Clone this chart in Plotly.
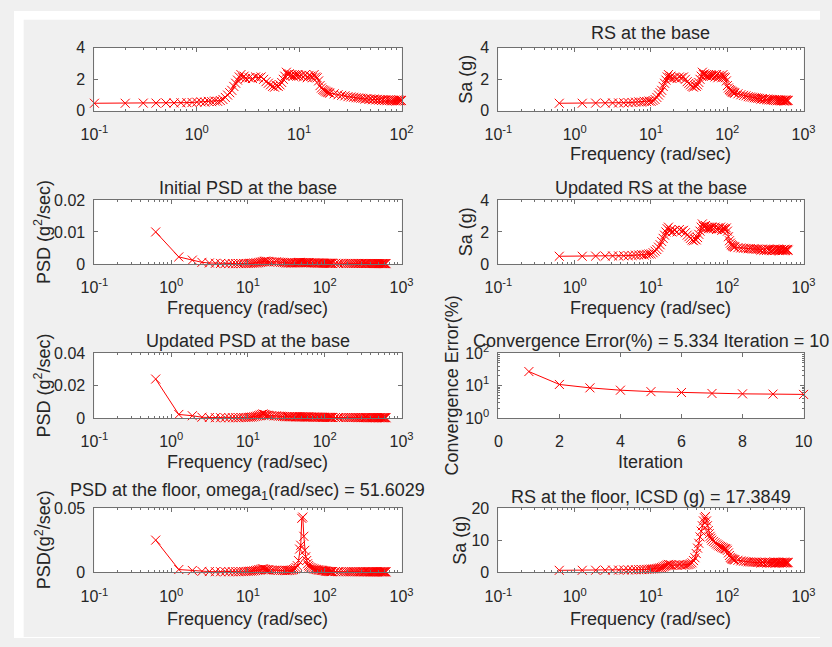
import math
import plotly.graph_objects as go

# ---------------- data ----------------
FREQ_HZ = [0.1, 0.2, 0.3, 0.4, 0.5, 0.6, 0.7, 0.8, 0.9, 1.0,
           1.1, 1.2, 1.3, 1.4, 1.5, 1.6, 1.7, 1.8, 1.9, 2.0,
           2.1, 2.2, 2.3, 2.4, 2.5, 2.6, 2.7, 2.8, 2.9, 3.0,
           3.25, 3.5, 3.75, 4.0, 4.25, 4.5, 4.75, 5.0,
           5.25, 5.5, 5.75, 6.0, 6.25, 6.5, 6.75, 7.0, 7.25, 7.5,
           7.75, 8.0, 8.25, 8.5, 8.75, 9.0, 9.25, 9.5, 9.75, 10.0,
           10.5, 11, 11.5, 12, 12.5, 13, 13.5, 14, 14.5, 15,
           15.5, 16, 16.5, 17, 17.5, 18, 18.5, 19, 19.5, 20,
           22, 24, 26, 28, 30, 32, 34, 36, 38, 40,
           42, 44, 46, 48, 50, 52, 54, 56, 58, 60,
           62, 64, 66, 68, 70, 72, 74, 76, 78, 80,
           82, 84, 86, 88, 90, 92, 94, 96, 98, 100]

RS_BASE = [0.48, 0.48, 0.49, 0.49, 0.50, 0.50, 0.51, 0.52, 0.53, 0.55,
           0.57, 0.55, 0.60, 0.58, 0.62, 0.60, 0.65, 0.72, 0.85, 1.00,
           1.15, 1.30, 1.55, 1.75, 1.95, 2.15, 2.30, 2.10, 2.20, 2.05,
           2.10, 2.05, 2.15, 2.10, 2.15, 2.00, 1.85, 1.75,
           1.65, 1.55, 1.50, 1.60, 1.55, 1.65, 1.80, 2.00, 2.20, 2.45,
           2.30, 2.35, 2.25, 2.30, 2.20, 2.30, 2.25, 2.20, 2.30, 2.20,
           2.25, 2.15, 2.30, 2.10, 2.25, 2.20, 2.10, 2.30, 2.15, 2.10,
           1.90, 1.60, 1.45, 1.35, 1.30, 1.25, 1.20, 1.18, 1.15, 1.12,
           1.08, 1.02, 0.98, 0.95, 0.90, 0.88, 0.86, 0.83, 0.82, 0.80,
           0.79, 0.74, 0.78, 0.72, 0.76, 0.70, 0.75, 0.69, 0.73, 0.68,
           0.72, 0.66, 0.71, 0.65, 0.70, 0.64, 0.69, 0.65, 0.70, 0.63,
           0.69, 0.64, 0.68, 0.62, 0.68, 0.63, 0.69, 0.64, 0.67, 0.65]

RS_UPDATED = [0.48, 0.48, 0.49, 0.49, 0.50, 0.50, 0.51, 0.52, 0.53, 0.55,
              0.56, 0.58, 0.56, 0.60, 0.62, 0.63, 0.70, 0.80, 0.90, 1.05,
              1.20, 1.40, 1.60, 1.80, 2.00, 2.20, 2.30, 2.05, 2.15, 2.00,
              2.10, 2.00, 2.15, 2.05, 2.10, 1.95, 1.80, 1.70,
              1.60, 1.50, 1.45, 1.55, 1.50, 1.65, 1.85, 2.05, 2.30, 2.50,
              2.35, 2.30, 2.40, 2.25, 2.30, 2.20, 2.30, 2.25, 2.20, 2.30,
              2.20, 2.30, 2.15, 2.25, 2.20, 2.30, 2.10, 2.25, 2.20, 2.15,
              2.25, 2.05, 1.70, 1.45, 1.30, 1.20, 1.15, 1.10, 1.08, 1.05,
              1.02, 1.00, 0.98, 0.97, 0.95, 0.96, 0.93, 0.94, 0.92, 0.93,
              0.91, 0.86, 0.93, 0.85, 0.90, 0.84, 0.92, 0.87, 0.91, 0.83,
              0.89, 0.86, 0.93, 0.84, 0.90, 0.87, 0.93, 0.84, 0.89, 0.86,
              0.91, 0.83, 0.88, 0.86, 0.92, 0.84, 0.90, 0.87, 0.91, 0.86]

RS_FLOOR = [0.55, 0.56, 0.58, 0.60, 0.62, 0.64, 0.66, 0.68, 0.70, 0.72,
            0.75, 0.78, 0.80, 0.85, 0.90, 0.95, 1.00, 1.05, 1.10, 1.20,
            1.30, 1.40, 1.60, 1.80, 2.00, 2.20, 2.40, 2.20, 2.30, 2.10,
            2.20, 2.10, 2.30, 2.15, 2.25, 2.20, 2.30, 2.40,
            2.60, 2.90, 3.60, 4.50, 5.80, 7.50, 9.00, 11.0, 12.8, 14.5,
            16.0, 17.0, 17.4, 16.0, 14.5, 13.0, 12.0, 11.2, 10.6, 10.0,
            9.6, 9.2, 8.8, 8.5, 8.2, 8.0, 7.8, 7.6, 7.4, 7.3,
            7.2, 6.8, 6.0, 5.2, 4.6, 4.3, 4.1, 4.0, 3.9, 3.8,
            3.7, 3.5, 3.4, 3.3, 3.2, 3.15, 3.1, 3.1, 3.05, 3.0,
            3.10, 2.85, 3.05, 2.90, 3.15, 2.80, 3.00, 2.95, 3.10, 2.85,
            3.00, 2.90, 3.15, 2.80, 3.05, 2.90, 3.10, 2.85, 3.00, 2.95,
            3.10, 2.80, 3.05, 2.90, 3.15, 2.85, 3.00, 2.90, 3.10, 2.95]

PSD_INIT = [0.0100, 0.0022, 0.0012, 0.0005, 0.0003, 0.0002, 0.00015, 0.0001, 0.0001, 0.0001,
            0.0001, 0.00012, 0.0001, 0.00015, 0.00012, 0.00015, 0.0002, 0.0002, 0.00025, 0.0003,
            0.0003, 0.0004, 0.0005, 0.0006, 0.0007, 0.0008, 0.0009, 0.0007, 0.0008, 0.0006,
            0.0007, 0.0006, 0.0007, 0.0006, 0.0005, 0.0005, 0.0004, 0.0003,
            0.0003, 0.0003, 0.00025, 0.0003, 0.0003, 0.00035, 0.0004, 0.0004, 0.00045, 0.0005,
            0.00045, 0.0004, 0.00045, 0.0004, 0.0004, 0.00035, 0.0004, 0.00035, 0.0004, 0.00035,
            0.0003, 0.0003, 0.00035, 0.0003, 0.0003, 0.00028, 0.0003, 0.00028, 0.00026, 0.00025,
            0.00025, 0.00022, 0.0002, 0.0002, 0.0002, 0.00018, 0.0002, 0.00018, 0.0002, 0.00018,
            0.00018, 0.00016, 0.00018, 0.00015, 0.00016, 0.00015, 0.00016, 0.00015, 0.00014, 0.00015,
            0.00014, 0.00015, 0.00013, 0.00014, 0.00015, 0.00013, 0.00014, 0.00012, 0.00014, 0.00013,
            0.00012, 0.00014, 0.00012, 0.00013, 0.00012, 0.00011, 0.00013, 0.00012, 0.00011, 0.00012,
            0.00011, 0.00012, 0.0001, 0.00011, 0.00012, 0.0001, 0.00011, 0.0001, 0.00011, 0.0001]

PSD_UPDATED = [0.0240, 0.0022, 0.0014, 0.0005, 0.0003, 0.0002, 0.0002, 0.0002, 0.0002, 0.0002,
               0.0002, 0.0002, 0.0003, 0.0003, 0.0003, 0.0004, 0.0005, 0.0006, 0.0008, 0.0010,
               0.0012, 0.0015, 0.0018, 0.0022, 0.0025, 0.0022, 0.0020, 0.0016, 0.0017, 0.0014,
               0.0015, 0.0013, 0.0014, 0.0012, 0.0011, 0.0010, 0.0009, 0.0008,
               0.0008, 0.0008, 0.0007, 0.0008, 0.0007, 0.0008, 0.0007, 0.0008, 0.0007, 0.0008,
               0.0007, 0.0007, 0.0008, 0.0007, 0.0007, 0.0006, 0.0007, 0.0006, 0.0007, 0.0006,
               0.0006, 0.0005, 0.0006, 0.0005, 0.0006, 0.0005, 0.0005, 0.0005, 0.0005, 0.0004,
               0.0005, 0.0004, 0.0004, 0.0004, 0.0004, 0.0004, 0.0004, 0.0003, 0.0004, 0.0003,
               0.0003, 0.0003, 0.0003, 0.0003, 0.0003, 0.0003, 0.0003, 0.0003, 0.0003, 0.0003,
               0.0003, 0.0002, 0.0003, 0.0002, 0.0003, 0.0002, 0.0003, 0.0002, 0.0003, 0.0002,
               0.0002, 0.0003, 0.0002, 0.0002, 0.0003, 0.0002, 0.0002, 0.0002, 0.0003, 0.0002,
               0.0002, 0.0002, 0.0003, 0.0002, 0.0002, 0.0002, 0.0002, 0.0003, 0.0002, 0.0002]

PSD_FLOOR = [0.0250, 0.0020, 0.0013, 0.0006, 0.0004, 0.0003, 0.0003, 0.0003, 0.0003, 0.0003,
             0.0003, 0.0003, 0.0004, 0.0004, 0.0005, 0.0006, 0.0007, 0.0008, 0.0010, 0.0012,
             0.0015, 0.0018, 0.0020, 0.0024, 0.0026, 0.0023, 0.0020, 0.0018, 0.0019, 0.0016,
             0.0017, 0.0015, 0.0016, 0.0014, 0.0013, 0.0012, 0.0012, 0.0011,
             0.0012, 0.0013, 0.0015, 0.0017, 0.0020, 0.0025, 0.0035, 0.0050, 0.0090, 0.0180,
             0.0210, 0.0420, 0.0430, 0.0280, 0.0170, 0.0120, 0.0090, 0.0065, 0.0050, 0.0040,
             0.0035, 0.0030, 0.0025, 0.0022, 0.0020, 0.0018, 0.0016, 0.0015, 0.0014, 0.0013,
             0.0012, 0.0010, 0.0008, 0.0006, 0.0005, 0.0005, 0.0004, 0.0004, 0.0004, 0.0004,
             0.0004, 0.0003, 0.0003, 0.0003, 0.0003, 0.0003, 0.0003, 0.0003, 0.0003, 0.0003,
             0.0003, 0.0002, 0.0003, 0.0002, 0.0003, 0.0002, 0.0003, 0.0002, 0.0002, 0.0003,
             0.0002, 0.0002, 0.0003, 0.0002, 0.0002, 0.0002, 0.0003, 0.0002, 0.0002, 0.0002,
             0.0002, 0.0003, 0.0002, 0.0002, 0.0002, 0.0002, 0.0002, 0.0003, 0.0002, 0.0002]

ITERATION = [1, 2, 3, 4, 5, 6, 7, 8, 9, 10]
CONV_ERROR = [27.0, 10.8, 8.5, 7.2, 6.5, 6.1, 5.7, 5.55, 5.45, 5.334]

# rad/sec axis values (unit conversion of the frequency grid)
FREQ_RAD = [2 * math.pi * f for f in FREQ_HZ]

LOG_TICKVALS = [0.1, 1, 10, 100, 1000]
LOG_TICKTEXT = ["10<sup>-1</sup>", "10<sup>0</sup>", "10<sup>1</sup>",
                "10<sup>2</sup>", "10<sup>3</sup>"]
CONV_Y_TICKVALS = [1, 10, 100]
CONV_Y_TICKTEXT = ["10<sup>0</sup>", "10<sup>1</sup>", "10<sup>2</sup>"]

TITLES = ["", "RS at the base", "Initial PSD at the base", "Updated RS at the base",
          "Updated PSD at the base", "Convergence Error(%) = 5.334 Iteration = 10",
          "PSD at the floor, omega<sub>1</sub>(rad/sec) = 51.6029",
          "RS at the floor, ICSD (g) = 17.3849"]
XLABELS = ["", "Frequency (rad/sec)", "Frequency (rad/sec)", "Frequency (rad/sec)",
           "Frequency (rad/sec)", "Iteration", "Frequency (rad/sec)", "Frequency (rad/sec)"]
YLABELS = ["", "Sa (g)", "PSD (g<sup>2</sup>/sec)", "Sa (g)", "PSD (g<sup>2</sup>/sec)",
           "Convergence Error(%)", "PSD(g<sup>2</sup>/sec)", "Sa (g)"]

# ---------------- layout geometry (window pixels) ----------------
W, H = 832, 647
COLS = [(83, 400), (500, 815)]
ROWS = [(38, 103), (195, 261), (353, 420), (513, 579)]

def px_x(v):
    return v / W

def px_y(v):
    return 1 - v / H

FONT = "Liberation Sans, Arial, Helvetica, sans-serif"
TXT = "#262626"
AX = "#707070"
RED = "#ff0000"
TICK_SIZE = 16
LABEL_SIZE = 18

MINOR_LOG = [k * 10 ** e for e in range(-1, 3) for k in range(2, 10)]

panels = [
    dict(x=FREQ_HZ, y=RS_BASE, xlog=True, xr=[-1, 2], ylog=False, yr=[0, 4], yt=[0, 2, 4], ytt=["0", "2", "4"]),
    dict(x=FREQ_RAD, y=RS_BASE, xlog=True, xr=[-1, 3], ylog=False, yr=[0, 4], yt=[0, 2, 4], ytt=["0", "2", "4"]),
    dict(x=FREQ_RAD, y=PSD_INIT, xlog=True, xr=[-1, 3], ylog=False, yr=[0, 0.02], yt=[0, 0.01, 0.02], ytt=["0", "0.01", "0.02"]),
    dict(x=FREQ_RAD, y=RS_UPDATED, xlog=True, xr=[-1, 3], ylog=False, yr=[0, 4], yt=[0, 2, 4], ytt=["0", "2", "4"]),
    dict(x=FREQ_RAD, y=PSD_UPDATED, xlog=True, xr=[-1, 3], ylog=False, yr=[0, 0.04], yt=[0, 0.02, 0.04], ytt=["0", "0.02", "0.04"]),
    dict(x=ITERATION, y=CONV_ERROR, xlog=False, xr=[0, 10], ylog=True, yr=[0, 2], yt=CONV_Y_TICKVALS, ytt=CONV_Y_TICKTEXT),
    dict(x=FREQ_RAD, y=PSD_FLOOR, xlog=True, xr=[-1, 3], ylog=False, yr=[0, 0.05], yt=[0, 0.05], ytt=["0", "0.05"]),
    dict(x=FREQ_RAD, y=RS_FLOOR, xlog=True, xr=[-1, 3], ylog=False, yr=[0, 20], yt=[0, 10, 20], ytt=["0", "10", "20"]),
]

fig = go.Figure()
layout = dict(
    width=W, height=H, autosize=False,
    margin=dict(l=0, r=0, t=0, b=0),
    paper_bgcolor="#f0f0f0", plot_bgcolor="white",
    showlegend=False,
    font=dict(family=FONT, color=TXT, size=TICK_SIZE),
)
annotations = []
ylab_offsets = [0, 33, 53, 33, 53, 48, 53, 40]
title_offsets = [15, 15, 12, 12, 12, 12, 17, 12]
xlab_offsets = [45, 45, 45, 45, 45, 45, 48, 48]
xtick_standoff = [9, 9, 9, 9, 9, 9, 10, 10]

for i, p in enumerate(panels):
    n = i + 1
    row, col = divmod(i, 2)
    x0, x1 = COLS[col]
    t0, b0 = ROWS[row]
    xs = "" if n == 1 else str(n)
    fig.add_trace(go.Scatter(
        x=p["x"], y=p["y"], xaxis="x" + xs, yaxis="y" + xs,
        mode="lines+markers", cliponaxis=False,
        line=dict(color=RED, width=1),
        marker=dict(symbol="x-thin", size=9, color=RED, line=dict(color=RED, width=1)),
        hoverinfo="skip",
    ))
    xa = dict(
        domain=[px_x(x0), px_x(x1)], anchor="y" + xs,
        range=p["xr"], type="log" if p["xlog"] else "linear",
        showgrid=False, zeroline=False,
        showline=True, linecolor=AX, linewidth=1, mirror="ticks",
        ticks="inside", ticklen=4, tickcolor=AX, tickwidth=1,
        ticklabelstandoff=xtick_standoff[i],
        tickfont=dict(family=FONT, size=TICK_SIZE, color=TXT),
    )
    if p["xlog"]:
        nt = 4 if p["xr"][1] == 2 else 5
        xa.update(tickmode="array", tickvals=LOG_TICKVALS[:nt], ticktext=LOG_TICKTEXT[:nt],
                  minor=dict(ticks="inside", ticklen=2, tickcolor=AX, tickwidth=1,
                             tickmode="array",
                             tickvals=[v for v in MINOR_LOG if v < 10 ** p["xr"][1]],
                             showgrid=False))
    else:
        xa.update(tickmode="array", tickvals=[0, 2, 4, 6, 8, 10],
                  ticktext=["0", "2", "4", "6", "8", "10"])
    ya = dict(
        domain=[px_y(b0), px_y(t0)], anchor="x" + xs,
        range=p["yr"], type="log" if p["ylog"] else "linear",
        showgrid=False, zeroline=False,
        showline=True, linecolor=AX, linewidth=1, mirror="ticks",
        ticks="inside", ticklen=4, tickcolor=AX, tickwidth=1,
        ticklabelstandoff=5,
        tickmode="array", tickvals=p["yt"], ticktext=p["ytt"],
        tickfont=dict(family=FONT, size=TICK_SIZE, color=TXT),
    )
    if p["ylog"]:
        ya.update(minor=dict(ticks="inside", ticklen=2, tickcolor=AX, tickwidth=1,
                             tickmode="array",
                             tickvals=[k * 10 ** e for e in range(0, 2) for k in range(2, 10)],
                             showgrid=False))
    layout["xaxis" + xs] = xa
    layout["yaxis" + xs] = ya

    cx = (x0 + x1) / 2
    cy = (t0 + b0) / 2
    if TITLES[i]:
        annotations.append(dict(text=TITLES[i], xref="paper", yref="paper",
                                x=px_x(cx), y=px_y(t0 - title_offsets[i]),
                                xanchor="center", yanchor="middle", showarrow=False,
                                font=dict(family=FONT, size=LABEL_SIZE, color=TXT)))
    if XLABELS[i]:
        annotations.append(dict(text=XLABELS[i], xref="paper", yref="paper",
                                x=px_x(cx), y=px_y(b0 + xlab_offsets[i]),
                                xanchor="center", yanchor="middle", showarrow=False,
                                font=dict(family=FONT, size=LABEL_SIZE, color=TXT)))
    if YLABELS[i]:
        annotations.append(dict(text=YLABELS[i], xref="paper", yref="paper",
                                x=px_x(x0 - ylab_offsets[i]), y=px_y(cy),
                                xanchor="center", yanchor="middle", showarrow=False,
                                textangle=-90,
                                font=dict(family=FONT, size=LABEL_SIZE, color=TXT)))

layout["annotations"] = annotations
layout["shapes"] = [
    dict(type="rect", xref="paper", yref="paper", x0=0, x1=px_x(10), y0=0, y1=1,
         fillcolor="white", line=dict(width=0), layer="above"),
    dict(type="rect", xref="paper", yref="paper", x0=0, x1=1, y0=px_y(9), y1=1,
         fillcolor="white", line=dict(width=0), layer="above"),
    dict(type="rect", xref="paper", yref="paper", x0=0, x1=1, y0=0, y1=px_y(646),
         fillcolor="white", line=dict(width=0), layer="above"),
]
fig.update_layout(**layout)
fig.write_html("out.html")
